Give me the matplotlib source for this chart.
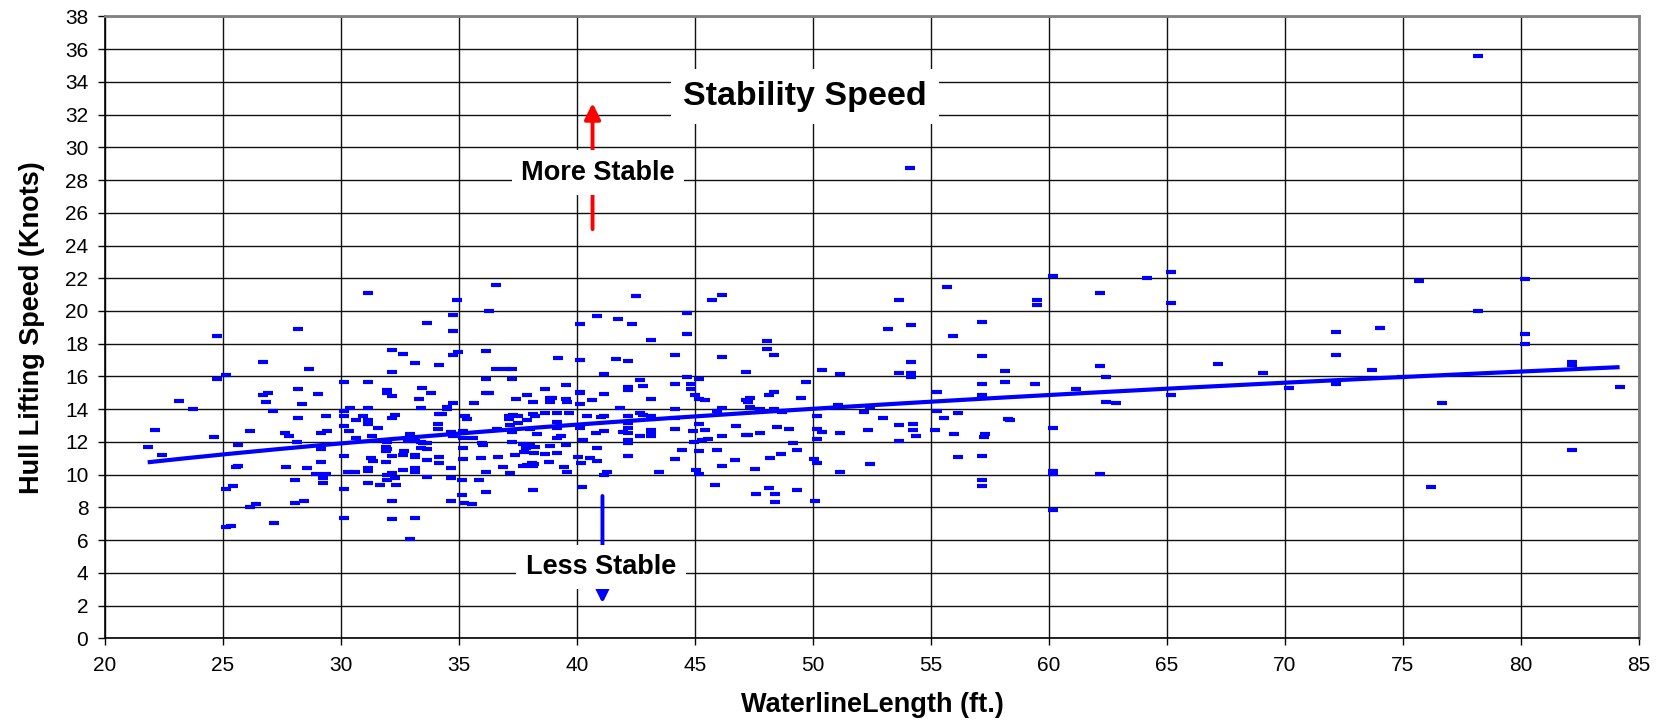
import numpy as np
import matplotlib
matplotlib.use("Agg")
import matplotlib.pyplot as plt

plt.rcParams['font.family'] = ['Liberation Sans', 'DejaVu Sans']

# waterline length (ft) and hull lifting speed (knots), one entry per boat
waterline_ft = [
    24.75, 28.19, 26.71, 28.64, 25.14, 24.75, 30.14, 28.19, 26.90, 26.71,
    29.04, 23.14, 23.74, 26.81, 28.36, 27.13, 28.19, 29.38, 30.14, 30.40,
    30.14, 30.62, 30.14, 30.34, 22.13, 24.63, 26.14, 27.64, 27.81, 29.14,
    29.39, 28.15, 25.64, 21.81, 22.43, 29.14, 30.62, 30.14, 29.14, 27.66,
    28.55, 25.55, 25.64, 28.94, 29.35, 30.31, 30.61, 28.05, 29.25, 29.25,
    25.13, 25.44, 30.14, 26.14, 26.38, 28.05, 28.45, 30.14, 25.13, 25.32,
    27.15, 31.14, 36.57, 34.90, 36.26, 34.76, 33.64, 34.76, 40.83, 40.14,
    32.15, 32.61, 33.15, 34.14, 32.15, 34.76, 34.94, 36.14, 39.20, 40.14,
    36.57, 36.98, 37.25, 36.14, 37.25, 31.14, 41.16, 31.96, 31.96, 32.16,
    33.45, 33.80, 33.30, 36.14, 36.26, 37.90, 38.66, 39.55, 38.85, 38.95,
    37.40, 39.55, 40.14, 40.14, 41.16, 40.65, 38.13, 38.86, 39.56, 40.14,
    35.65, 34.76, 34.48, 34.48, 31.14, 33.38, 30.95, 32.15, 32.29, 31.14,
    31.14, 31.55, 34.16, 34.27, 34.12, 34.12, 35.25, 35.35, 37.13, 37.27,
    37.13, 37.51, 37.16, 37.49, 37.90, 38.12, 38.22, 38.66, 39.17, 39.65,
    39.17, 39.14, 40.41, 41.00, 40.13, 41.16, 40.81, 31.31, 31.96, 31.96,
    31.89, 31.89, 32.94, 32.85, 33.14, 33.39, 33.49, 33.66, 33.38, 33.66,
    34.65, 34.76, 35.15, 35.16, 35.61, 35.96, 36.03, 36.60, 37.23, 37.23,
    37.70, 38.01, 38.21, 37.85, 38.18, 37.74, 38.01, 38.30, 39.14, 39.34,
    39.53, 40.27, 40.85, 38.86, 38.66, 39.14, 35.15, 35.16, 35.95, 36.65,
    37.36, 32.67, 32.64, 33.14, 33.14, 32.16, 33.64, 34.15, 34.15, 31.28,
    31.37, 31.91, 31.14, 31.14, 32.15, 31.93, 32.64, 33.14, 33.14, 33.64,
    34.65, 34.65, 35.14, 35.86, 36.14, 36.85, 37.16, 37.72, 37.87, 38.08,
    38.18, 38.12, 38.83, 39.46, 39.56, 40.06, 40.16, 40.55, 40.83, 41.14,
    41.26, 32.30, 31.93, 31.14, 31.64, 32.34, 35.14, 35.23, 35.54, 36.14,
    34.65, 38.12, 32.15, 32.15, 33.15, 32.94, 40.20, 42.49, 45.73, 46.16,
    41.74, 42.32, 44.65, 44.65, 43.15, 48.05, 48.05, 48.35, 41.65, 42.16,
    44.15, 46.16, 47.15, 50.40, 51.16, 42.66, 42.16, 42.16, 42.81, 44.15,
    44.65, 44.82, 44.82, 45.16, 49.70, 43.15, 44.99, 45.16, 45.44, 47.32,
    48.35, 48.15, 49.49, 47.26, 47.16, 41.82, 44.17, 41.16, 42.18, 42.66,
    42.81, 43.15, 44.15, 46.16, 45.92, 47.33, 47.75, 48.35, 48.67, 51.05,
    50.16, 41.96, 42.18, 42.18, 42.18, 42.66, 43.15, 43.15, 43.15, 44.17,
    44.90, 45.16, 45.44, 46.16, 46.75, 47.15, 47.26, 47.75, 48.46, 48.98,
    50.16, 50.37, 51.15, 50.16, 42.18, 42.18, 44.97, 45.28, 45.57, 49.14,
    42.18, 44.45, 45.16, 45.95, 49.34, 48.66, 48.16, 44.17, 46.71, 50.06,
    50.16, 46.16, 47.56, 43.49, 45.04, 45.16, 51.16, 45.86, 48.15, 47.57,
    48.41, 48.41, 49.34, 50.07, 60.17, 55.66, 53.66, 62.16, 59.49, 59.49,
    57.16, 53.16, 54.15, 55.92, 57.16, 54.15, 53.66, 54.15, 54.15, 58.15,
    62.16, 62.42, 57.16, 58.15, 59.42, 55.25, 57.16, 61.16, 62.42, 52.40,
    52.15, 52.95, 53.66, 54.25, 54.25, 54.36, 52.32, 53.66, 55.25, 55.56,
    56.16, 55.17, 55.98, 58.28, 58.35, 57.30, 57.26, 60.17, 52.40, 56.16,
    57.16, 57.16, 57.16, 60.17, 60.17, 62.16, 60.17, 64.17, 65.17, 65.17,
    72.16, 72.16, 67.16, 69.07, 73.67, 70.17, 72.16, 65.17, 62.85, 74.03,
    78.16, 75.66, 80.17, 78.18, 80.17, 80.17, 82.18, 82.18, 74.96, 84.18,
    76.67, 82.18, 76.17, 54.11,
]
lifting_kn = [
    18.46, 18.90, 16.87, 16.46, 16.11, 15.83, 15.68, 15.23, 14.99, 14.87,
    14.91, 14.52, 13.99, 14.46, 14.34, 13.89, 13.45, 13.61, 13.89, 14.05,
    13.59, 13.34, 12.98, 12.67, 12.73, 12.32, 12.65, 12.57, 12.39, 12.55,
    12.67, 12.00, 11.84, 11.67, 11.20, 11.57, 12.22, 11.14, 10.76, 10.45,
    10.39, 10.45, 10.51, 10.06, 10.06, 10.19, 10.17, 9.70, 9.80, 9.49,
    9.14, 9.33, 9.10, 8.05, 8.21, 8.25, 8.41, 7.37, 6.79, 6.87,
    7.03, 21.10, 21.57, 20.67, 20.00, 19.78, 19.29, 18.78, 19.67, 19.19,
    17.64, 17.37, 16.80, 16.70, 16.27, 17.30, 17.48, 17.56, 17.15, 16.99,
    16.44, 16.44, 16.46, 15.87, 15.83, 15.65, 16.13, 15.19, 14.99, 14.83,
    15.30, 14.99, 14.63, 14.99, 14.97, 14.85, 15.23, 15.48, 14.69, 14.69,
    14.63, 14.63, 15.07, 14.97, 14.95, 14.55, 14.46, 14.42, 14.42, 14.32,
    14.40, 14.40, 14.12, 13.99, 14.06, 14.10, 13.61, 13.49, 13.65, 13.35,
    13.08, 12.88, 13.73, 13.73, 13.10, 12.79, 13.59, 13.43, 13.61, 13.63,
    13.40, 13.61, 13.02, 13.18, 13.35, 13.71, 13.59, 13.75, 13.77, 13.77,
    13.22, 12.87, 13.61, 13.55, 12.83, 12.67, 12.53, 12.38, 11.98, 11.55,
    11.69, 11.45, 12.51, 12.08, 12.08, 11.98, 11.92, 11.92, 11.65, 11.57,
    12.63, 12.38, 12.69, 12.26, 12.26, 11.92, 11.82, 12.79, 12.63, 12.00,
    11.88, 11.82, 11.67, 11.61, 11.35, 11.37, 12.79, 12.50, 12.26, 12.38,
    11.84, 12.10, 11.61, 11.75, 11.27, 11.33, 11.61, 10.96, 10.99, 11.06,
    11.22, 11.45, 11.20, 11.18, 11.06, 11.14, 10.92, 11.08, 10.72, 11.04,
    10.84, 10.80, 10.43, 10.22, 10.10, 10.00, 10.29, 10.39, 10.17, 9.84,
    10.43, 9.82, 9.66, 9.66, 10.16, 10.47, 10.08, 10.51, 10.59, 10.73,
    10.65, 10.53, 10.77, 10.49, 10.16, 11.10, 10.72, 11.00, 10.84, 10.00,
    10.17, 9.78, 9.70, 9.49, 9.35, 9.39, 8.74, 8.25, 8.21, 8.96,
    8.39, 9.07, 8.39, 7.29, 7.37, 6.05, 9.27, 20.94, 20.65, 20.98,
    19.51, 19.23, 19.86, 18.61, 18.23, 18.15, 17.66, 17.31, 17.09, 16.92,
    17.33, 17.21, 16.29, 16.40, 16.13, 15.80, 15.36, 15.18, 15.42, 15.54,
    15.97, 15.52, 15.21, 15.83, 15.68, 14.61, 14.89, 14.65, 14.57, 14.70,
    15.05, 14.87, 14.67, 14.42, 14.59, 14.08, 14.04, 13.57, 13.57, 13.79,
    13.65, 13.59, 13.47, 14.10, 13.87, 14.12, 14.02, 14.00, 13.81, 14.24,
    13.59, 12.61, 12.53, 12.83, 13.13, 12.37, 12.75, 12.53, 12.35, 12.81,
    12.65, 13.10, 12.71, 12.35, 12.96, 12.41, 12.41, 12.57, 12.94, 12.81,
    12.79, 12.61, 12.53, 12.18, 12.12, 11.92, 11.98, 12.10, 12.16, 11.96,
    11.12, 11.51, 11.47, 11.53, 11.51, 11.27, 11.00, 10.96, 10.90, 10.98,
    10.72, 10.53, 10.35, 10.15, 10.29, 10.06, 10.18, 9.37, 9.17, 8.80,
    8.82, 8.33, 9.04, 8.39, 22.12, 21.47, 20.67, 21.10, 20.65, 20.35,
    19.35, 18.90, 19.14, 18.47, 17.27, 16.86, 16.19, 16.21, 15.95, 16.31,
    16.64, 15.95, 15.52, 15.64, 15.54, 15.03, 14.85, 15.22, 14.42, 14.12,
    13.81, 13.47, 13.02, 13.10, 12.73, 12.35, 12.75, 12.08, 13.91, 13.45,
    13.75, 12.71, 12.51, 13.43, 13.32, 12.51, 12.33, 12.85, 10.63, 11.06,
    11.12, 9.66, 9.29, 10.21, 10.05, 10.05, 7.87, 22.04, 22.36, 20.47,
    18.70, 17.29, 16.78, 16.21, 16.42, 15.30, 15.54, 14.85, 14.36, 18.98,
    35.56, 21.82, 21.98, 19.98, 18.60, 18.00, 16.90, 16.70, 15.95, 15.38,
    14.36, 11.53, 9.23, 28.74,
]

x_ticks = list(range(20, 86, 5))
y_ticks = list(range(0, 39, 2))

x = np.array(waterline_ft)
y = np.array(lifting_kn)

# power trendline y = a * x^b, fitted in log-log space
b, ln_a = np.polyfit(np.log(x), np.log(y), 1)
xt = np.linspace(x.min(), x.max(), 200)
yt = np.exp(ln_a) * xt ** b

fig = plt.figure(figsize=(16.69, 7.27), dpi=100)
ax = fig.add_axes([0.0629, 0.1219, 0.9191, 0.8556])

ax.plot(x, y, linestyle='none', marker='_', markersize=6.5, markeredgewidth=3.0,
        color='#0000ff', zorder=3)
ax.plot(xt, yt, color='#0000ff', lw=3.0, solid_capstyle='butt', zorder=4)

ax.set_xlim(20, 85)
ax.set_ylim(0, 38)
ax.set_xticks(x_ticks)
ax.set_yticks(y_ticks)
ax.grid(True, color='#111111', lw=1.0, zorder=1)
ax.set_axisbelow(True)
ax.tick_params(direction='out', length=5, width=1, labelsize=15, color='black')
ax.tick_params(axis='x', pad=8)
ax.tick_params(axis='y', pad=7)

for side in ('left', 'bottom'):
    ax.spines[side].set_color('black')
    ax.spines[side].set_linewidth(1.2)
for side in ('top', 'right'):
    ax.spines[side].set_color('#808080')
    ax.spines[side].set_linewidth(2)

ax.set_xlabel('WaterlineLength (ft.)', fontsize=19.5, fontweight='bold')
ax.set_ylabel('Hull Lifting Speed (Knots)', fontsize=19.5, fontweight='bold')
ax.xaxis.set_label_coords(0.5, -0.086)
ax.yaxis.set_label_coords(-0.039, 0.5)

# stability arrows, with their labels sitting on top
ax.annotate('', xy=(40.66, 32.7), xytext=(40.66, 25.0),
            arrowprops=dict(arrowstyle='-|>', color='#ff0000', lw=2.8,
                            mutation_scale=24, shrinkA=0, shrinkB=0), zorder=5)
ax.annotate('', xy=(41.08, 2.15), xytext=(41.08, 8.7),
            arrowprops=dict(arrowstyle='-|>', color='#0000ff', lw=2.8,
                            mutation_scale=24, shrinkA=0, shrinkB=0), zorder=5)

box = dict(boxstyle='square,pad=0.35', fc='white', ec='none')
ax.text(40.89, 28.46, 'More Stable', fontsize=19.5, fontweight='bold',
        ha='center', va='center', bbox=box, zorder=6)
ax.text(41.02, 4.36, 'Less Stable', fontsize=19.5, fontweight='bold',
        ha='center', va='center', bbox=box, zorder=6)
ax.text(49.66, 33.1, 'Stability Speed', fontsize=24.5, fontweight='bold',
        ha='center', va='center', bbox=box, zorder=6)

fig.savefig('out.png', dpi=100, facecolor='white')
